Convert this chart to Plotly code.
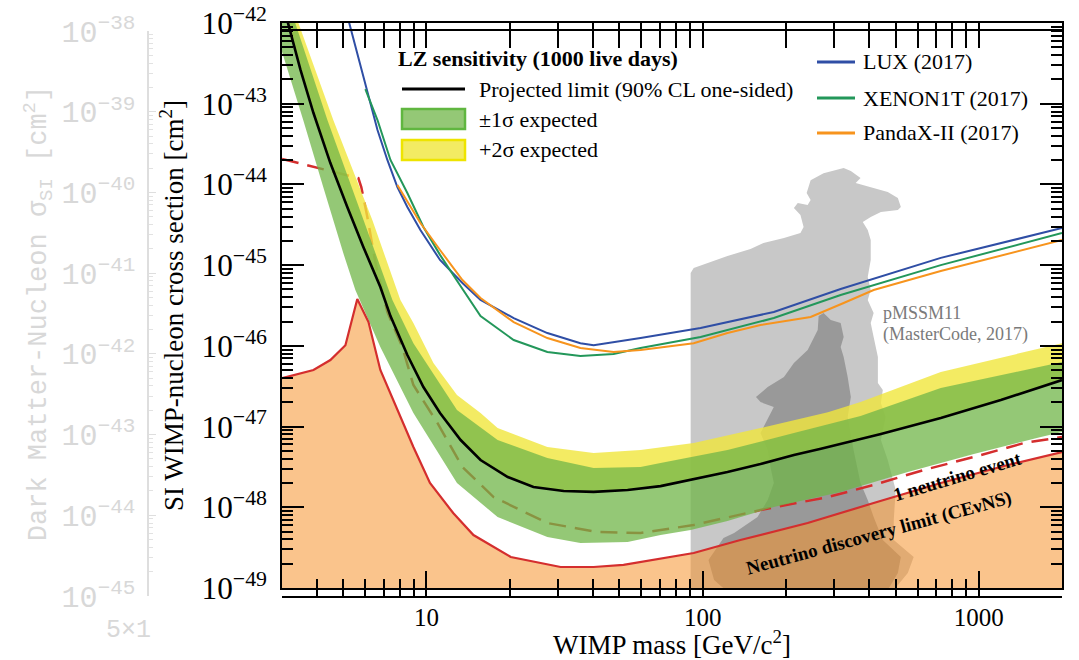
import math
import plotly.graph_objects as go

# ---------------------------------------------------------------
# LZ projected SI sensitivity (1000 live days) and 2017 limits
# WIMP mass in GeV/c^2, cross section in cm^2
# ---------------------------------------------------------------
lz_mass = [3.0, 3.16, 3.50, 3.90, 4.49, 5.17, 5.91, 6.81, 7.41, 8.53, 9.75, 11.2, 13.3, 15.7,
           19.7, 24.4, 31.4, 40.3, 53.5, 70.4, 92.7, 123, 162, 214, 268, 442, 728, 1201, 2000]
lz_sigma = [1.9e-42, 1.0e-42, 2.62e-43, 7.67e-44, 1.84e-44, 5.25e-45, 1.68e-45, 5.36e-46, 2.34e-46,
            7.70e-47, 3.09e-47, 1.47e-47, 6.81e-48, 3.85e-48, 2.37e-48, 1.78e-48, 1.59e-48, 1.55e-48,
            1.64e-48, 1.83e-48, 2.24e-48, 2.74e-48, 3.44e-48, 4.44e-48, 5.3e-48, 8.09e-48, 1.28e-47,
            2.13e-47, 3.77e-47]

# +1 sigma expected
p1_mass = [3.0, 3.35, 4.38, 5.91, 7.53, 8.97, 12.9, 18.1, 27.4, 40.3, 59.6, 70.4, 123, 214, 373, 728, 2000]
p1_sigma = [3.0e-42, 1.0e-42, 6.28e-44, 3.62e-45, 3.70e-46, 1.08e-46, 1.60e-47, 6.81e-48, 4.08e-48,
            3.06e-48, 3.15e-48, 3.54e-48, 5.12e-48, 8.32e-48, 1.35e-47, 3.00e-47, 6.31e-47]

# -1 sigma expected
m1_mass = [3.0, 3.58, 4.23, 5.00, 5.53, 6.81, 8.97, 12.9, 18.1, 27.4, 36.1, 53.5, 70.4, 90.5, 123,
           181, 316, 553, 959, 1677, 2000]
m1_sigma = [4.4e-43, 6.28e-44, 9.29e-45, 1.41e-45, 4.92e-46, 9.67e-47, 1.47e-47, 2.00e-48, 7.57e-49,
            4.28e-49, 3.61e-49, 3.71e-49, 4.53e-49, 5.23e-49, 6.76e-49, 1.01e-48, 1.55e-48, 2.73e-48,
            4.57e-48, 7.42e-48, 8.56e-48]

# +2 sigma expected
p2_mass = [3.0, 3.44, 4.60, 6.37, 8.05, 8.97, 10.6, 12.9, 15.7, 18.1, 27.4, 40.3, 59.6, 92.8, 162,
           284, 373, 728, 2000]
p2_sigma = [3.5e-42, 1.0e-42, 6.28e-44, 3.62e-45, 3.70e-46, 1.92e-46, 6.13e-47, 2.46e-47, 1.47e-47,
            9.59e-48, 5.58e-48, 4.70e-48, 5.12e-48, 6.25e-48, 9.59e-48, 1.51e-47, 2.01e-47, 4.74e-47,
            1.08e-46]

# 1 neutrino event contour
nu1_mass = [3.0, 5.67, 5.81, 6.11, 6.53, 7.22, 8.18, 8.97, 10.96, 13.5, 17.5, 27.4, 41.6, 59.6, 92.8,
            162, 284, 416, 632, 959, 1456, 2000]
nu1_sigma = [2.07e-44, 1.20e-44, 9.29e-45, 3.95e-45, 1.09e-45, 2.63e-46, 9.67e-47, 3.27e-47, 1.11e-47,
             3.15e-48, 1.34e-48, 6.38e-49, 4.94e-49, 4.80e-49, 6.03e-49, 9.25e-49, 1.34e-48, 1.89e-48,
             2.90e-48, 4.20e-48, 6.25e-48, 7.42e-48]

# Neutrino discovery limit (CEvNS)
floor_mass = [3.0, 3.90, 4.49, 5.09, 5.62, 6.17, 6.81, 7.85, 8.97, 10.3, 12.5, 14.8, 20.2, 30.6, 40.3,
              51.7, 59.6, 92.8, 137, 240, 416, 728, 1274, 2000]
floor_sigma = [3.99e-47, 5.02e-47, 6.68e-47, 1.02e-46, 3.80e-46, 1.97e-46, 5.02e-47, 1.60e-47, 5.58e-48,
               2.00e-48, 8.49e-49, 4.53e-49, 2.42e-49, 1.82e-49, 1.82e-49, 1.93e-49, 2.10e-49, 2.71e-49,
               3.93e-49, 6.38e-49, 1.13e-48, 2.00e-48, 3.34e-48, 4.84e-48]

# LUX (2017)
lux_mass = [5.22, 5.62, 6.11, 6.65, 7.22, 7.85, 8.53, 9.51, 11.2, 13.5, 15.7, 20.7, 27.4, 36.1, 40.3,
            59.6, 98.3, 181, 316, 728, 2000]
lux_sigma = [1.09e-42, 4.25e-43, 1.36e-43, 4.72e-44, 2.01e-44, 9.29e-45, 5.25e-45, 2.72e-45, 1.16e-45,
             6.01e-46, 3.70e-46, 2.21e-46, 1.44e-46, 1.08e-46, 1.02e-46, 1.25e-46, 1.66e-46, 2.63e-46,
             5.06e-46, 1.23e-45, 2.88e-45]

# XENON1T (2017)
xe_mass = [6.01, 6.65, 7.41, 8.53, 9.75, 11.2, 12.85, 15.7, 20.7, 27.4, 36.1, 47.6, 59.6, 98.3, 181,
           316, 728, 2000]
xe_sigma = [1.52e-43, 6.28e-44, 2.01e-44, 7.83e-45, 2.97e-45, 1.34e-45, 6.54e-46, 2.34e-46, 1.18e-46,
            8.39e-47, 7.48e-47, 7.92e-47, 9.40e-47, 1.29e-46, 2.21e-46, 4.26e-46, 1.00e-45, 2.50e-45]

# PandaX-II (2017)
pandax_mass = [7.85, 9.51, 11.2, 13.5, 15.7, 20.7, 27.4, 36.1, 47.6, 59.6, 92.8, 123, 162, 214, 246,
               324, 416, 728, 2000]
pandax_sigma = [9.83e-45, 3.33e-45, 1.54e-45, 6.54e-46, 3.92e-46, 1.97e-46, 1.25e-46, 9.40e-47, 8.39e-47,
                8.88e-47, 1.08e-46, 1.44e-46, 1.81e-46, 2.09e-46, 2.28e-46, 3.40e-46, 4.92e-46, 8.46e-46,
                2.05e-45]

# pMSSM11 (MasterCode, 2017): outer (light) and inner (dark) regions
pmssm_outer_mass = [90.5, 90.5, 92.8, 107, 123, 149, 166, 197, 226, 232, 226, 214, 221, 240, 246, 238,
                    246, 274, 324, 344, 373, 358, 406, 468, 509, 522, 509, 442, 406, 380, 396, 406, 406,
                    396, 406, 396, 416, 406, 416, 431, 431, 449, 442, 460, 442, 468, 500, 492, 492, 581,
                    553, 492]
pmssm_outer_sigma = [9.44e-50, 7.99e-46, 9.21e-46, 1.09e-45, 1.30e-45, 1.58e-45, 1.88e-45, 2.17e-45,
                     2.50e-45, 2.97e-45, 4.18e-45, 5.10e-45, 5.89e-45, 5.56e-45, 6.41e-45, 7.83e-45,
                     1.13e-44, 1.38e-44, 1.60e-44, 1.47e-44, 1.20e-44, 1.04e-44, 9.29e-45, 8.05e-45,
                     6.79e-45, 5.25e-45, 4.82e-45, 4.55e-45, 3.95e-45, 3.42e-45, 2.72e-45, 2.05e-45,
                     1.16e-45, 7.13e-46, 4.92e-46, 3.70e-46, 2.55e-46, 1.92e-46, 1.29e-46, 7.27e-47,
                     3.46e-47, 2.84e-47, 1.96e-47, 1.31e-47, 6.81e-48, 3.85e-48, 1.64e-48, 6.95e-49,
                     3.93e-49, 2.42e-49, 1.53e-49, 9.44e-50]
pmssm_inner_mass = [263, 274, 291, 316, 324, 316, 324, 335, 344, 335, 352, 373, 396, 416, 449, 522, 509,
                    468, 121, 110, 105, 119, 130, 158, 172, 181, 176, 172, 162, 181, 162, 156, 172, 181,
                    197, 214, 240, 261]
pmssm_inner_sigma = [2.34e-46, 2.55e-46, 2.09e-46, 1.92e-46, 1.29e-46, 9.67e-47, 7.27e-47, 4.11e-47,
                     2.32e-47, 1.31e-47, 5.12e-48, 2.00e-48, 1.23e-48, 7.57e-49, 3.93e-49, 2.42e-49,
                     1.53e-49, 9.44e-50, 9.44e-50, 1.26e-49, 2.22e-49, 4.16e-49, 4.80e-49, 7.57e-49,
                     1.23e-48, 2.00e-48, 3.15e-48, 5.12e-48, 8.32e-48, 1.75e-47, 2.01e-47, 2.32e-47,
                     3.09e-47, 3.46e-47, 4.11e-47, 6.13e-47, 8.88e-47, 1.57e-46]

# axis limits
X_MIN, X_MAX = 3.0, 2000.0
Y_MIN, Y_MAX = 1e-49, 1e-42
GHOST_MIN, GHOST_MAX = 1e-45, 1e-38

# ---------------------------------------------------------------
# page geometry helpers (figure pixels -> paper fractions)
# ---------------------------------------------------------------
W, H = 1079, 660
ML, MR, MT, MB = 20, 17, 23, 60
PW, PH = W - ML - MR, H - MT - MB


def fx(p):
    return (p - ML) / PW


def fy(p):
    return (H - MB - p) / PH


SERIF = "Liberation Serif, Times New Roman, serif"
MONO = "Liberation Mono, Courier New, monospace"
GHOST = "#d8d8d8"

C_LUX = "#2f4ea5"
C_XE = "#23975a"
C_PX = "#f7941d"
C_RED = "#d42e2e"
GREEN_FILL = "rgba(112,182,72,0.75)"
YELLOW_FILL = "rgba(240,230,60,0.8)"
ORANGE_FILL = "rgba(246,148,46,0.55)"

fig = go.Figure()

# pMSSM11 regions (underneath everything)
fig.add_trace(go.Scatter(x=pmssm_outer_mass, y=pmssm_outer_sigma, fill="toself", mode="lines",
                         fillcolor="#c8c8c8", line=dict(width=0), hoverinfo="skip"))
fig.add_trace(go.Scatter(x=pmssm_inner_mass, y=pmssm_inner_sigma, fill="toself", mode="lines",
                         fillcolor="#999999", line=dict(width=0), hoverinfo="skip"))

# neutrino discovery region
fig.add_trace(go.Scatter(x=floor_mass + [X_MAX, X_MIN], y=floor_sigma + [Y_MIN, Y_MIN],
                         fill="toself", mode="lines", fillcolor=ORANGE_FILL, line=dict(width=0),
                         hoverinfo="skip"))

# 1 neutrino event contour (below the bands)
fig.add_trace(go.Scatter(x=nu1_mass, y=nu1_sigma, mode="lines",
                         line=dict(color=C_RED, width=2.5, dash="17px,9px")))

# +2 sigma band (median to +2 sigma)
fig.add_trace(go.Scatter(x=p2_mass + lz_mass[::-1], y=p2_sigma + lz_sigma[::-1], fill="toself",
                         mode="lines", fillcolor=YELLOW_FILL, line=dict(width=0), hoverinfo="skip"))
# +/-1 sigma band
fig.add_trace(go.Scatter(x=p1_mass + m1_mass[::-1], y=p1_sigma + m1_sigma[::-1], fill="toself",
                         mode="lines", fillcolor=GREEN_FILL, line=dict(width=0), hoverinfo="skip"))

# neutrino discovery limit line
fig.add_trace(go.Scatter(x=floor_mass, y=floor_sigma, mode="lines", line=dict(color=C_RED, width=2.2)))

# experimental limits
fig.add_trace(go.Scatter(x=lux_mass, y=lux_sigma, mode="lines", line=dict(color=C_LUX, width=2)))
fig.add_trace(go.Scatter(x=xe_mass, y=xe_sigma, mode="lines", line=dict(color=C_XE, width=2)))
fig.add_trace(go.Scatter(x=pandax_mass, y=pandax_sigma, mode="lines", line=dict(color=C_PX, width=2)))

# LZ projected limit
fig.add_trace(go.Scatter(x=lz_mass, y=lz_sigma, mode="lines", line=dict(color="black", width=2.6)))

# anchor for the faded secondary cross-section axis
fig.add_trace(go.Scatter(x=[10], y=[1e-40], yaxis="y2", mode="markers",
                         marker=dict(opacity=0), hoverinfo="skip"))

# ---------------------------------------------------------------
# legend keys and labels
# ---------------------------------------------------------------
shapes = [
    dict(type="line", xref="paper", yref="paper", x0=fx(402), x1=fx(465), y0=fy(89), y1=fy(89),
         line=dict(color="black", width=3)),
    dict(type="rect", xref="paper", yref="paper", x0=fx(402), x1=fx(465), y0=fy(129), y1=fy(109),
         fillcolor="rgb(148,200,118)", line=dict(color="rgb(96,182,64)", width=2.5)),
    dict(type="rect", xref="paper", yref="paper", x0=fx(402), x1=fx(465), y0=fy(160), y1=fy(140),
         fillcolor="rgb(243,235,99)", line=dict(color="rgb(238,228,0)", width=2.5)),
]
for yk, col in [(62, C_LUX), (98, C_XE), (133, C_PX)]:
    shapes.append(dict(type="line", xref="paper", yref="paper", x0=fx(817), x1=fx(855), y0=fy(yk),
                       y1=fy(yk), line=dict(color=col, width=3)))

annotations = []


def label(text, x, y, size=22, color="black", xanchor="left", angle=0, family=SERIF):
    annotations.append(dict(text=text, x=fx(x), y=fy(y), xref="paper", yref="paper", showarrow=False,
                            xanchor=xanchor, yanchor="middle", textangle=angle,
                            font=dict(family=family, size=size, color=color)))


label("<b>LZ sensitivity (1000 live days)</b>", 396, 58)
label("Projected limit (90% CL one-sided)", 477, 89)
label("±1σ expected", 477, 119)
label("+2σ expected", 477, 149)
label("LUX (2017)", 861, 62)
label("XENON1T (2017)", 861, 98)
label("PandaX-II (2017)", 861, 133)
label("pMSSM11", 881, 313, size=18, color="#7a7a7a")
label("(MasterCode, 2017)", 881, 334, size=18, color="#7a7a7a")
label("<b>1 neutrino event</b>", 957, 476, size=19, xanchor="center", angle=-16.5)
label("<b>Neutrino discovery limit (CEνNS)</b>", 879, 533, size=19, xanchor="center", angle=-15.2)
label("5×1", 153, 630, size=25, color=GHOST, xanchor="right", family=MONO)

axis_common = dict(showgrid=False, zeroline=False, showline=True, linecolor="black", linewidth=2,
                   mirror="allticks", ticks="inside", tickcolor="black", tickwidth=1.5,
                   automargin=False)

fig.update_layout(
    width=W, height=H,
    margin=dict(l=ML, r=MR, t=MT, b=MB, pad=0, autoexpand=False),
    paper_bgcolor="white", plot_bgcolor="rgba(0,0,0,0)",
    showlegend=False,
    shapes=shapes, annotations=annotations,
    xaxis=dict(
        **axis_common, type="log", range=[math.log10(X_MIN), math.log10(X_MAX)],
        domain=[fx(282), 1.0], dtick=1, exponentformat="none", ticklen=17,
        minor=dict(ticks="inside", ticklen=8, tickwidth=1.5, tickcolor="black", dtick="D1"),
        tickfont=dict(family=SERIF, size=25, color="black"), ticklabelstandoff=6,
        title=dict(text="WIMP mass [GeV/c<sup>2</sup>]", font=dict(family=SERIF, size=27, color="black"),
                   standoff=6),
    ),
    yaxis=dict(
        **axis_common, type="log", range=[math.log10(Y_MIN), math.log10(Y_MAX)],
        domain=[fy(588), fy(23)], dtick=1, exponentformat="power", showexponent="all", ticklen=22,
        minor=dict(ticks="inside", ticklen=11, tickwidth=1.5, tickcolor="black", dtick="D1"),
        tickfont=dict(family=SERIF, size=25, color="black"), ticklabelstandoff=8,
        title=dict(text="SI WIMP-nucleon cross section [cm<sup>2</sup>]",
                   font=dict(family=SERIF, size=27, color="black"), standoff=10),
    ),
    yaxis2=dict(
        type="log", range=[math.log10(GHOST_MIN), math.log10(GHOST_MAX)], domain=[fy(596), fy(31)],
        anchor="free", position=fx(148), side="left", showgrid=False, zeroline=False,
        automargin=False,
        showline=True, linecolor="#dedede", linewidth=1.5, ticks="inside", ticklen=7,
        tickcolor="#dedede", tickwidth=1.2, dtick=1, exponentformat="power", showexponent="all",
        minor=dict(ticks="inside", ticklen=4, tickwidth=1, tickcolor="#e2e2e2", dtick="D1"),
        tickfont=dict(family=MONO, size=24, color=GHOST), ticklabelstandoff=7,
        title=dict(text="Dark Matter-Nucleon σ<sub>SI</sub> [cm<sup>2</sup>]",
                   font=dict(family=MONO, size=27, color=GHOST), standoff=6),
    ),
)

fig.write_html("out.html")
